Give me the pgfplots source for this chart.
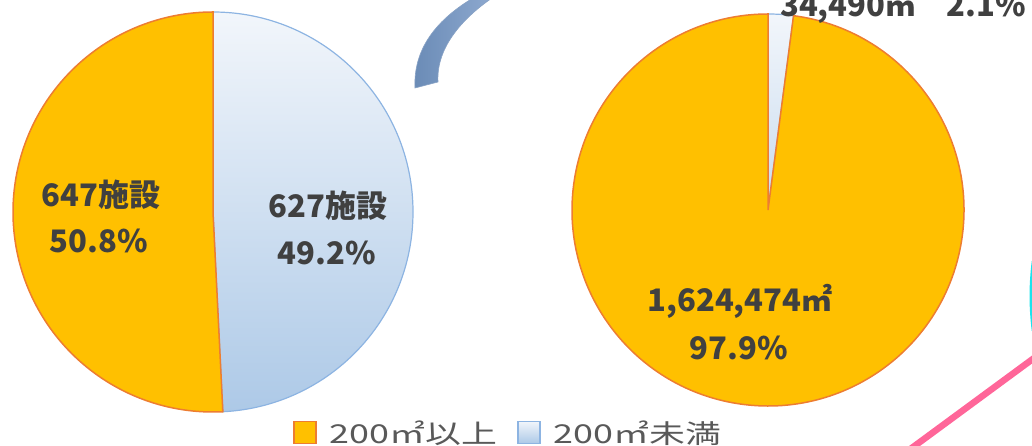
\documentclass[border=0pt]{standalone}
\usepackage{pgfplots}
\pgfplotsset{compat=1.18}
\usepackage{pgfplotstable}
\usepackage{fontspec}
\setmainfont{Noto Sans CJK JP}
\newfontfamily\legfont{Noto Sans CJK JP}[FakeStretch=1.38]
\definecolor{orng}{HTML}{FFC000}
\definecolor{orngbord}{HTML}{ED7D31}
\definecolor{bluetop}{HTML}{F2F6FB}
\definecolor{bluebot}{HTML}{ADC9E7}
\definecolor{bluebord}{HTML}{8DB4E2}
\definecolor{lbl}{HTML}{404040}
\definecolor{leg}{HTML}{595959}
\definecolor{arrowdark}{HTML}{6A8BB6}
\definecolor{arrowlight}{HTML}{8FAAD0}
\definecolor{pinkline}{HTML}{FF6699}
\definecolor{cyanline}{HTML}{1DE3EC}

% number of facilities
\pgfplotstableread{
category value
ge200 647
lt200 627
}\facilities
% floor area (m^2)
\pgfplotstableread{
category value
ge200 1624474
lt200 34490
}\areas

\pgfplotstablegetelem{0}{value}\of\facilities \edef\fA{\pgfplotsretval}
\pgfplotstablegetelem{1}{value}\of\facilities \edef\fB{\pgfplotsretval}
\pgfplotstablegetelem{0}{value}\of\areas \edef\aA{\pgfplotsretval}
\pgfplotstablegetelem{1}{value}\of\areas \edef\aB{\pgfplotsretval}
\edef\angF{\fpeval{90-360*\fB/(\fA+\fB)}}
\edef\angA{\fpeval{90-360*\aB/(\aA+\aB)}}

\begin{document}
\begin{tikzpicture}
\begin{axis}[
  x=1pt, y=1pt, xmin=0, xmax=1032, ymin=0, ymax=446,
  hide axis, clip=false, anchor=origin, at={(0,0)},
  legend columns=2,
  legend image code/.code={\draw[#1] (0pt,-10pt) rectangle (22pt,12pt); \path[draw=none,fill=none,shade=false] (0pt,0pt) -- (34pt,0pt);},
  legend style={draw=none, fill=none, at={(axis cs:290,-3.5)}, anchor=south west,
    font=\legfont\fontsize{26}{30}\selectfont, text=leg,
    /tikz/every even column/.append style={column sep=18pt},
    nodes={inner sep=2pt}},
]
\addlegendimage{fill=orng, draw=orngbord, line width=1.3pt}
\addlegendentry{200㎡以上}
\addlegendimage{top color=bluetop, bottom color=bluebot, draw=bluebord, line width=1.3pt}
\addlegendentry{200㎡未満}

% left pie (facilities)
\path[top color=bluetop, bottom color=bluebot, draw=bluebord, line width=1.2pt]
  (axis cs:213,234) -- ++(90:200pt) arc[start angle=90, end angle=\angF, radius=200pt] -- cycle;
\path[fill=orng, draw=orngbord, line width=1.5pt]
  (axis cs:213,234) -- ++(\angF:200pt) arc[start angle=\angF, end angle=-270, radius=200pt] -- cycle;

% right pie (area)
\path[top color=bluetop, bottom color=bluebot!60!bluetop, draw=bluebord, line width=1.2pt]
  (axis cs:768,236) -- ++(90:196pt) arc[start angle=90, end angle=\angA, radius=196pt] -- cycle;
\path[fill=orng, draw=orngbord, line width=1.5pt]
  (axis cs:768,236) -- ++(\angA:196pt) arc[start angle=\angA, end angle=-270, radius=196pt] -- cycle;

% labels
\node[anchor=base, text=lbl, font=\fontsize{31}{36}\selectfont\bfseries] at (axis cs:101,239) {647施設};
\node[anchor=base, text=lbl, font=\fontsize{31}{36}\selectfont\bfseries] at (axis cs:99,193) {50.8\%};
\node[anchor=base, text=lbl, font=\fontsize{31}{36}\selectfont\bfseries] at (axis cs:328,228) {627施設};
\node[anchor=base, text=lbl, font=\fontsize{31}{36}\selectfont\bfseries] at (axis cs:327,181) {49.2\%};
\node[anchor=base, text=lbl, font=\fontsize{31}{36}\selectfont\bfseries] at (axis cs:740,134) {1,624,474㎡};
\node[anchor=base, text=lbl, font=\fontsize{31}{36}\selectfont\bfseries] at (axis cs:739,86) {97.9\%};
\node[anchor=base west, inner sep=0pt, text=lbl, font=\fontsize{31}{36}\selectfont\bfseries] at (axis cs:780,429) {34,490㎡\hspace{30pt}2.1\%};

% decorations
\path[left color=arrowdark, right color=arrowlight, draw=arrowdark!80!white, line width=0.6pt]
  (axis cs:415,358) .. controls (axis cs:413,400) and (axis cs:440,430) .. (axis cs:480,452)
  -- (axis cs:495,450) .. controls (axis cs:465,430) and (axis cs:436,400) .. (axis cs:438,364) -- cycle;
\draw[cyanline, line width=2.5pt] (axis cs:1033,185) .. controls (axis cs:1030,160) and (axis cs:1030,140) .. (axis cs:1033,115);
\draw[pinkline, line width=6.5pt] (axis cs:905,-7) -- (axis cs:1045,96);
\end{axis}
\pgfresetboundingbox
\path[use as bounding box] (0,0) rectangle (1032pt,446pt);
\end{tikzpicture}
\end{document}
